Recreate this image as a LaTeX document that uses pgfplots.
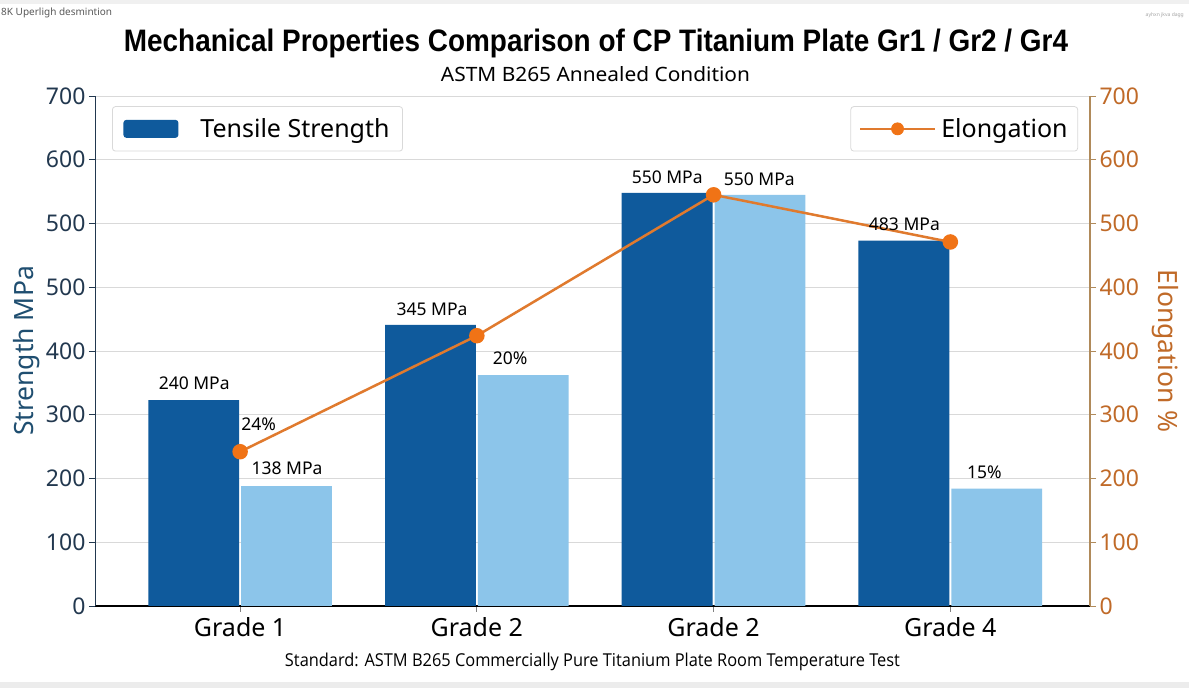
\documentclass[border=0pt]{standalone}
\usepackage{pgfplots}
\pgfplotsset{compat=1.18}
\usepackage{pgfplotstable}
\usepackage{fontspec}
\setmainfont{Noto Sans}
\newfontfamily\titlefont{Liberation Sans}
\newfontfamily\footfont{Open Sans}

\definecolor{darkbar}{HTML}{0F5A9C}
\definecolor{lightbar}{HTML}{8CC5EA}
\definecolor{orangeline}{HTML}{E07A2E}
\definecolor{orangemark}{HTML}{F07316}
\definecolor{lefttick}{HTML}{22384F}
\definecolor{leftlabel}{HTML}{1F4E70}
\definecolor{righttick}{HTML}{C06A28}
\definecolor{rightaxis}{HTML}{B08A5A}

% heights expressed in tick steps (each step = one labelled gridline)
\pgfplotstableread{
x y
0 3.23
1 4.41
2 6.48
3 5.73
}\tensiledata
\pgfplotstableread{
x y
0 1.88
1 3.62
2 6.45
3 1.84
}\seconddata
\pgfplotstableread{
x y
0 2.42
1 4.24
2 6.45
3 5.71
}\elongdata

\begin{document}
\begin{tikzpicture}[x=1pt,y=1pt]
\useasboundingbox (0,0) rectangle (1189,688);
\fill[white] (0,0) rectangle (1189,688);
\fill[gray!15] (0,0) rectangle (1189,6);
\fill[gray!12] (0,684) rectangle (1189,688);

\begin{axis}[
  at={(95pt,82pt)}, anchor=south west,
  scale only axis, width=995pt, height=510pt,
  xmin=-0.613, xmax=3.59, ymin=0, ymax=8,
  axis y line*=left, axis x line*=bottom,
  xtick={0,1,2,3}, xticklabels={Grade 1,Grade 2,Grade 2,Grade 4},
  ytick={0,1,2,3,4,5,6,7,8},
  yticklabels={0,100,200,300,400,500,500,600,700},
  ymajorgrids, grid style={gray!30, line width=0.8pt},
  tick align=outside, major tick length=6pt,
  tick style={line width=0.8pt},
  x tick label style={font=\fontsize{25}{25}\selectfont, text=black, yshift=-2pt},
  y tick label style={font=\fontsize{23}{23}\selectfont, text=lefttick},
  x axis line style={black, line width=1.2pt},
  y axis line style={lefttick, line width=0.9pt},
  ytick style={lefttick},
  ylabel={Strength MPa},
  ylabel style={at={(axis description cs:-0.069,0.5)}, anchor=center,
    font=\fontsize{26.5}{26.5}\selectfont, text=leftlabel},
  legend style={at={(axis description cs:0.0171,0.980)}, anchor=north west,
    draw=gray!30, rounded corners=3pt, line width=0.8pt,
    font=\fontsize{25}{25}\selectfont, inner xsep=11pt, inner ysep=10pt,
    /tikz/every odd column/.append style={column sep=20pt}},
  legend cell align=left,
  clip=false,
]
\addplot[ybar, bar width=0.384, bar shift=-0.196, fill=darkbar, draw=none,
  legend image code/.code={\fill[darkbar] (0pt,-9pt) rectangle (55pt,9pt);}]
  table[x=x,y=y]{\tensiledata};
\addlegendentry{Tensile Strength}
\addplot[ybar, bar width=0.384, bar shift=0.196, fill=lightbar, draw=none, forget plot]
  table[x=x,y=y]{\seconddata};
\addplot[orangeline, line width=2.5pt, mark=*, mark size=6.5pt,
  mark options={fill=orangemark, draw=orangemark}, forget plot]
  table[x=x,y=y]{\elongdata};

\begin{scope}[every node/.style={font=\fontsize{17.5}{17.5}\selectfont, text=black}]
\node at (axis cs:-0.194,3.50) {240 MPa};
\node[anchor=west] at (axis cs:-0.01,2.855) {24\%};
\node at (axis cs:0.198,2.165) {138 MPa};
\node at (axis cs:0.811,4.66) {345 MPa};
\node at (axis cs:1.141,3.89) {20\%};
\node at (axis cs:1.804,6.73) {550 MPa};
\node at (axis cs:2.193,6.70) {550 MPa};
\node at (axis cs:2.806,5.99) {483 MPa};
\node at (axis cs:3.144,2.10) {15\%};
\end{scope}
\end{axis}

\begin{axis}[
  at={(95pt,82pt)}, anchor=south west,
  scale only axis, width=995pt, height=510pt,
  xmin=-0.613, xmax=3.59, ymin=0, ymax=8,
  axis y line*=right, axis x line=none,
  ytick={0,1,2,3,4,5,6,7,8},
  yticklabels={0,100,200,300,400,400,500,600,700},
  tick align=outside, major tick length=6pt,
  ytick style={rightaxis, line width=0.8pt},
  y axis line style={rightaxis, line width=1.2pt},
  y tick label style={font=\fontsize{23}{23}\selectfont, text=righttick},
  ylabel={Elongation \%},
  ylabel style={at={(axis description cs:1.0754,0.5)}, anchor=center, rotate=180,
    font=\fontsize{26.5}{26.5}\selectfont, text=righttick},
  legend style={at={(axis description cs:0.988,0.980)}, anchor=north east,
    draw=gray!30, rounded corners=3pt, line width=0.8pt,
    font=\fontsize{25}{25}\selectfont, inner xsep=8pt, inner ysep=10pt,
    /tikz/every odd column/.append style={column sep=3pt}},
  legend cell align=left,
]
\addlegendimage{legend image code/.code={
  \draw[orangeline, line width=2.5pt] (0pt,0pt) -- (75pt,0pt);
  \fill[orangemark] (37.5pt,0pt) circle (6pt);}}
\addlegendentry{Elongation}
\end{axis}

\node at (596,645) {\resizebox{944pt}{22.5pt}{\titlefont\bfseries Mechanical Properties Comparison of CP Titanium Plate Gr1 / Gr2 / Gr4}};
\node at (595.5,614) {\resizebox{309pt}{15pt}{ASTM B265 Annealed Condition}};
\node at (592.5,26) {\resizebox{615pt}{13.5pt}{\footfont Standard: ASTM B265 Commercially Pure Titanium Plate Room Temperature Test}};
\node[anchor=west, text=gray!70!black, font=\fontsize{10}{10}\selectfont, inner sep=1pt] at (0,675) {8K Uperligh desmintion};
\node[anchor=east, text=gray!70, font=\fontsize{5}{5}\selectfont, inner sep=1pt] at (1185,673) {ayhxn jkva dagg};
\end{tikzpicture}
\end{document}
